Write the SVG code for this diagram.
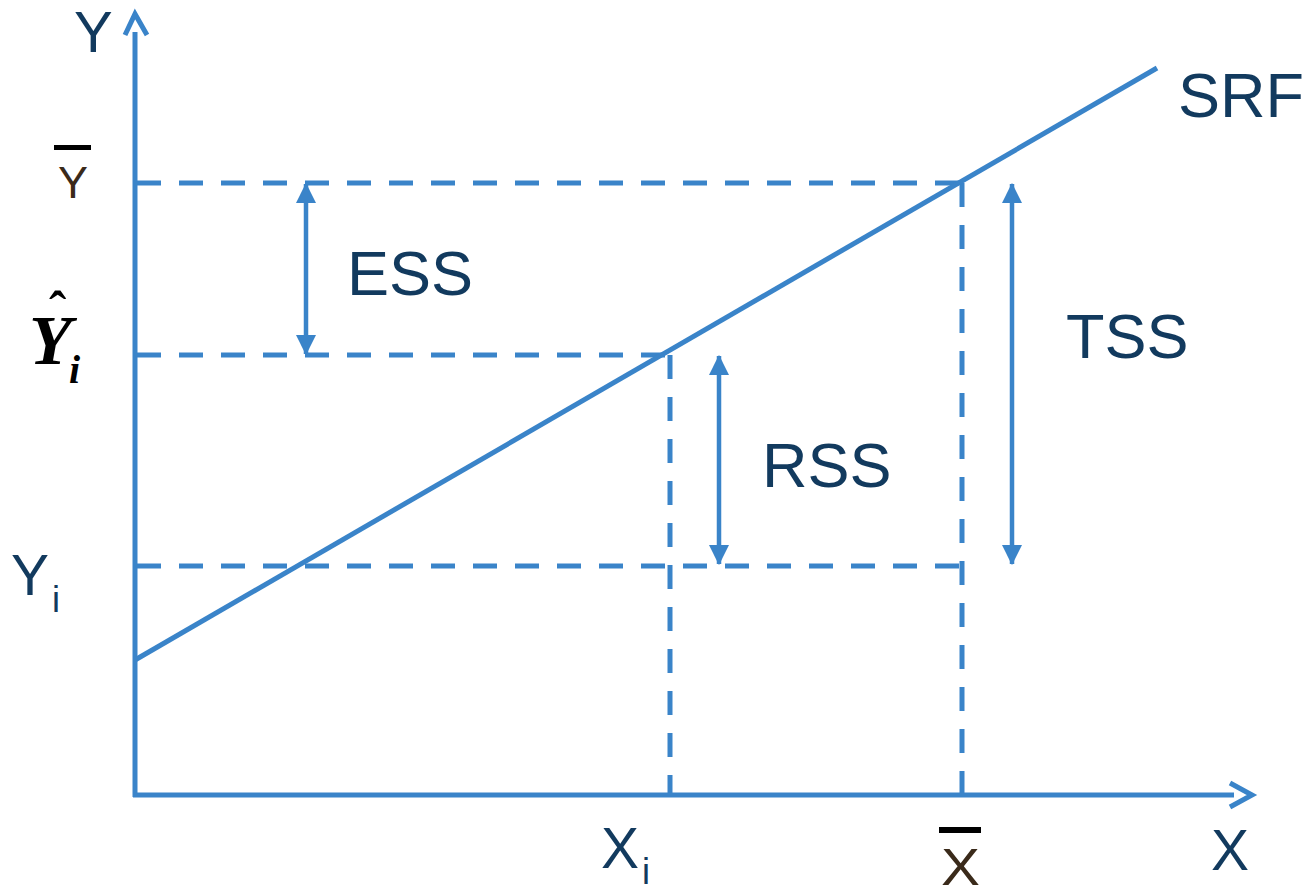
<svg xmlns="http://www.w3.org/2000/svg" width="1308" height="886" viewBox="0 0 1308 886">
<style>
.ax{stroke:#3a84c9;stroke-width:5;fill:none}
.dash{stroke:#3a84c9;stroke-width:5;fill:none;stroke-dasharray:24 18}
.arr{stroke:#3a84c9;stroke-width:4.5;fill:none}
.lbl{font-family:"Liberation Sans",Arial,sans-serif;fill:#123a5e}
.bar{fill:#000}
</style>
<defs>
<marker id="ah" markerUnits="userSpaceOnUse" markerWidth="20" markerHeight="20" viewBox="0 0 18 18" refX="17" refY="9" orient="auto-start-reverse">
<path d="M0,0 L18,9 L0,18 Z" fill="#3a84c9"/>
</marker>
</defs>
<g id="connectors">
<line class="dash" x1="137" y1="183" x2="962" y2="183"/>
<line class="dash" x1="137" y1="355" x2="670" y2="355"/>
<line class="dash" x1="137" y1="566" x2="962" y2="566"/>
<line class="dash" x1="670" y1="355" x2="670" y2="795"/>
<line class="dash" x1="962" y1="183" x2="962" y2="795"/>
<line class="ax" x1="135" y1="660" x2="1157" y2="68"/>
<line class="arr" x1="306" y1="184" x2="306" y2="354" marker-start="url(#ah)" marker-end="url(#ah)"/>
<line class="arr" x1="719" y1="356" x2="719" y2="564" marker-start="url(#ah)" marker-end="url(#ah)"/>
<line class="arr" x1="1012" y1="184" x2="1012" y2="564" marker-start="url(#ah)" marker-end="url(#ah)"/>
</g>
<g id="y-axis">
<line class="ax" x1="135" y1="32" x2="135" y2="797"/>
<polyline class="ax" points="125,35 135,14 147,35"/>
</g>
<g id="x-axis">
<line class="ax" x1="133" y1="795" x2="1234" y2="795"/>
<polyline class="ax" points="1230,783 1252,795 1230,807"/>
</g>
<g id="label-Y"><text class="lbl" x="74" y="52" font-size="58">Y</text></g>
<g id="label-X"><text class="lbl" x="1211" y="870" font-size="57">X</text></g>
<g id="label-SRF"><text class="lbl" x="1178" y="117" font-size="63">SRF</text></g>
<g id="label-ESS"><text class="lbl" x="347" y="295" font-size="63">ESS</text></g>
<g id="label-TSS"><text class="lbl" x="1066" y="358" font-size="63">TSS</text></g>
<g id="label-RSS"><text class="lbl" x="762" y="487" font-size="63">RSS</text></g>
<g id="label-Xi"><text class="lbl" x="601" y="868" font-size="57">X</text><text class="lbl" x="642" y="884" font-size="36">i</text></g>
<g id="label-Yi"><text class="lbl" x="11" y="595" font-size="57">Y</text><text class="lbl" x="52" y="612" font-size="36">i</text></g>
<g id="label-Ybar">
<rect class="bar" x="54" y="145" width="37" height="5"/>
<text x="58" y="198" font-family="Liberation Sans,Arial,sans-serif" font-size="44" fill="#3a2a1a" textLength="30" lengthAdjust="spacingAndGlyphs">Y</text>
</g>
<g id="label-Xbar">
<rect class="bar" x="939" y="827" width="42" height="6"/>
<text x="941" y="885" font-family="Liberation Sans,Arial,sans-serif" font-size="52" fill="#3a2a1a" textLength="39" lengthAdjust="spacingAndGlyphs">X</text>
</g>
<g id="label-Yhat">
<text x="29" y="364" font-family="Liberation Serif,Times New Roman,serif" font-weight="bold" font-style="italic" font-size="70" fill="#000">Y</text>
<text x="49" y="328" font-family="Liberation Serif,Times New Roman,serif" font-weight="bold" font-size="52" fill="#000">ˆ</text>
<text x="69" y="383" font-family="Liberation Serif,Times New Roman,serif" font-weight="bold" font-style="italic" font-size="40" fill="#000">i</text>
</g>
</svg>
